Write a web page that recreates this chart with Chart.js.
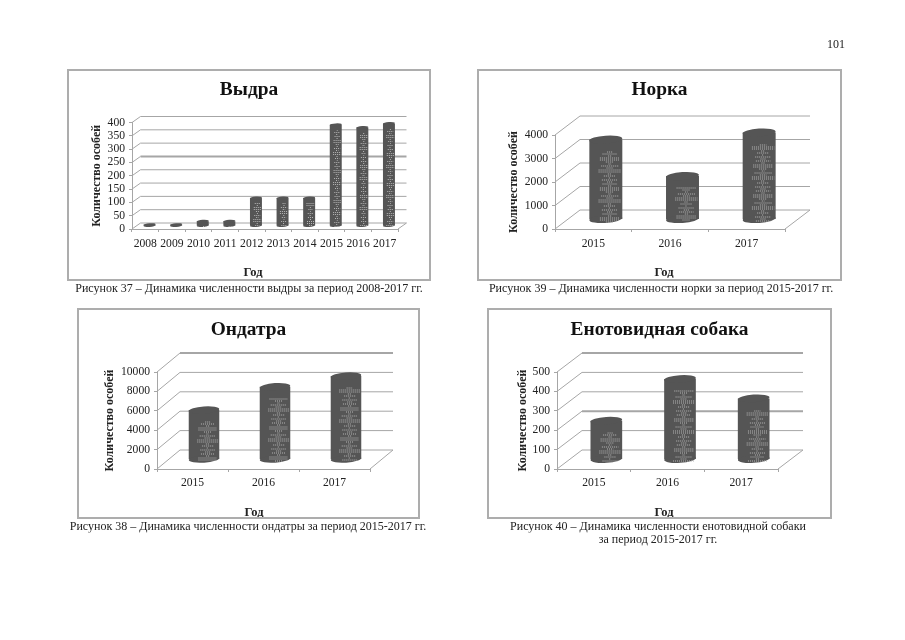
<!DOCTYPE html>
<html lang="ru">
<head>
<meta charset="utf-8">
<title>Динамика численности</title>
<script src="https://cdn.jsdelivr.net/npm/chart.js@4"></script>
<style>
    html, body { margin: 0; padding: 0; background: #fff; }
    body { position: relative; width: 905px; height: 640px; overflow: hidden; font-family: "Liberation Serif", serif; color: #222; }
    .marco { position: absolute; box-sizing: border-box; border: 2px solid #adadad; background: #fff; }
    .marco canvas { display: block; }
    .pie { position: absolute; white-space: nowrap; transform: translate(-50%, -50%); font-size: 12px; line-height: 13px; will-change: transform; }
</style>
</head>
<body>
<div class="pie" style="left:836px;top:44px">101</div>

<div class="marco" style="left:67px;top:69px;width:364px;height:212px"><canvas id="graf-vydra"></canvas></div>
<div class="marco" style="left:477px;top:69px;width:365px;height:212px"><canvas id="graf-norka"></canvas></div>
<div class="marco" style="left:77px;top:308px;width:343px;height:211px"><canvas id="graf-ondatra"></canvas></div>
<div class="marco" style="left:487px;top:308px;width:345px;height:211px"><canvas id="graf-enot"></canvas></div>

<div class="pie" style="left:248.5px;top:288px">Рисунок 37 – Динамика численности выдры за период 2008-2017 гг.</div>
<div class="pie" style="left:661px;top:288px">Рисунок 39 – Динамика численности норки за период 2015-2017 гг.</div>
<div class="pie" style="left:247.5px;top:526px">Рисунок 38 – Динамика численности ондатры за период 2015-2017 гг.</div>
<div class="pie" style="left:658px;top:526px">Рисунок 40 – Динамика численности енотовидной собаки</div>
<div class="pie" style="left:658px;top:539px">за период 2015-2017 гг.</div>

<script>
'use strict';

/* Datos */
const aniosVydra = ['2008', '2009', '2010', '2011', '2012', '2013', '2014', '2015', '2016', '2017'];
const valoresVydra = [5, 5, 18, 18, 105, 105, 105, 380, 370, 385];

const aniosCorto = ['2015', '2016', '2017'];
const valoresNorka = [3400, 1850, 3700];
const valoresOndatra = [5100, 7500, 8600];
const valoresEnot = [200, 415, 315];

const COLOR_BARRA = '#555555';
const COLOR_REJILLA = '#a6a6a6';
const COLOR_MOTA = '#b8b8b8';
const COLOR_TEXTO = '#222222';
const FUENTE = '"Liberation Serif", serif';

// anchura relativa de cada fila de motas, se repite a lo largo del cilindro
const FILAS_MOTAS = [0.08, 0.22, 0.05, 0.3, 0.3, 0.12, 0.04, 0.26, 0.1, 0.34, 0.34, 0.06, 0.18, 0.03, 0.24];

/* ─── Pared, suelo y cilindros del falso 3D ─── */
const plugin3D = {
    id: 'falso3d',

    beforeDatasetsDraw(chart, args, opts) {
        const { ctx, chartArea: area, scales: { y } } = chart;
        ctx.save();
        ctx.strokeStyle = COLOR_REJILLA;
        y.ticks.forEach(t => {
            const py = y.getPixelForValue(t.value);
            ctx.lineWidth = 1;
            ctx.beginPath();
            ctx.moveTo(area.left, py);
            ctx.lineTo(area.left + opts.dx, py + opts.dy);
            ctx.stroke();
            ctx.lineWidth = opts.gruesas.includes(t.value) ? 2 : 1;
            ctx.beginPath();
            ctx.moveTo(area.left + opts.dx, py + opts.dy);
            ctx.lineTo(area.right + opts.dx, py + opts.dy);
            ctx.stroke();
        });
        // arista derecha del suelo
        ctx.lineWidth = 1;
        ctx.beginPath();
        ctx.moveTo(area.right, area.bottom);
        ctx.lineTo(area.right + opts.dx, area.bottom + opts.dy);
        ctx.stroke();
        ctx.restore();

        // las barras van a media profundidad
        ctx.save();
        ctx.translate(opts.dx / 2, opts.dy / 2);
    },

    afterDatasetsDraw(chart) {
        const { ctx } = chart;
        chart.getDatasetMeta(0).data.forEach((bar, n) => {
            const { x, y, base, width } = bar.getProps(['x', 'y', 'base', 'width'], true);
            const ry = width * 0.12;
            ctx.fillStyle = COLOR_BARRA;
            [y, base].forEach(py => {
                ctx.beginPath();
                ctx.ellipse(x, py, width / 2, ry, -0.07, 0, Math.PI * 2);
                ctx.fill();
            });

            // motas claras del escaneado, en columna central
            const ini = y + ry + Math.min(width * 0.3, 8);
            const fin = base + ry * 0.7;
            ctx.strokeStyle = COLOR_MOTA;
            ctx.lineWidth = 1;
            ctx.setLineDash([1, 1]);
            const cx = x + width * 0.12;
            let i = n * 4;
            for (let py = ini; py < fin; py += 2) {
                const m = FILAS_MOTAS[i++ % FILAS_MOTAS.length] * width;
                ctx.beginPath();
                ctx.moveTo(cx - m, Math.round(py) + 0.5);
                ctx.lineTo(cx + m, Math.round(py) + 0.5);
                ctx.stroke();
            }
            ctx.setLineDash([]);
        });
        ctx.restore();
    },

    afterDraw(chart, args, opts) {
        const { ctx } = chart;
        ctx.save();
        ctx.font = `bold ${opts.tamAnio}px ${FUENTE}`;
        ctx.fillStyle = COLOR_TEXTO;
        ctx.textAlign = 'center';
        ctx.textBaseline = 'middle';
        ctx.fillText('Год', opts.anioX, opts.anioY);
        ctx.restore();
    }
};

/* ─── Crea un gráfico; g lleva la geometría en px respecto al canvas ─── */
function crearGrafico(id, titulo, categorias, valores, maximo, paso, g) {
    const canvas = document.getElementById(id);
    canvas.width = g.ancho;
    canvas.height = g.alto;

    const tamTitulo = 19.4;
    const relleno = g.tituloY - tamTitulo * 0.6;

    new Chart(canvas, {
        type: 'bar',
        data: {
            labels: categorias,
            datasets: [{
                data: valores,
                backgroundColor: COLOR_BARRA,
                borderWidth: 0,
                categoryPercentage: 1,
                barPercentage: g.barra,
                clip: false
            }]
        },
        options: {
            responsive: false,
            animation: false,
            layout: { padding: 0 },
            plugins: {
                legend: { display: false },
                tooltip: { enabled: false },
                title: {
                    display: true,
                    text: titulo,
                    color: '#111',
                    font: { family: FUENTE, size: tamTitulo, weight: 'bold', lineHeight: 1.2 },
                    padding: { top: relleno, bottom: g.arriba - relleno - tamTitulo * 1.2 }
                },
                falso3d: {
                    dx: g.dx, dy: g.dy, gruesas: g.gruesas,
                    tamAnio: 12.5, anioX: g.anioX, anioY: g.anioY
                }
            },
            scales: {
                x: {
                    grid: { offset: true, drawOnChartArea: false, color: COLOR_REJILLA, tickLength: 3 },
                    border: { color: COLOR_REJILLA },
                    ticks: {
                        color: COLOR_TEXTO, maxRotation: 0, autoSkip: false, padding: g.padX,
                        font: { family: FUENTE, size: g.tamTick }
                    },
                    afterFit(s) { s.height = g.alto - g.abajo; }
                },
                y: {
                    min: 0, max: maximo,
                    grid: { drawOnChartArea: false, color: COLOR_REJILLA, tickLength: 3 },
                    border: { color: COLOR_REJILLA },
                    ticks: {
                        stepSize: paso, color: COLOR_TEXTO, padding: 4, autoSkip: false,
                        font: { family: FUENTE, size: g.tamTick },
                        callback: v => String(v)
                    },
                    title: {
                        display: true,
                        text: 'Количество особей',
                        color: COLOR_TEXTO,
                        font: { family: FUENTE, size: 12, weight: 'bold', lineHeight: 1.2 },
                        padding: { top: g.ejeY - 7.2, bottom: 0 }
                    },
                    afterFit(s) { s.width = g.izquierda; }
                },
                // eje vacío: solo reserva el margen derecho sin descentrar el título
                margen: {
                    position: 'right',
                    grid: { display: false },
                    border: { display: false },
                    ticks: { display: false },
                    afterFit(s) { s.width = g.ancho - g.derecha; }
                }
            }
        },
        plugins: [plugin3D]
    });
}

crearGrafico('graf-vydra', 'Выдра', aniosVydra, valoresVydra, 400, 50, {
    ancho: 360, alto: 208, izquierda: 63, derecha: 329, arriba: 51.5, abajo: 158,
    dx: 8.5, dy: -6, barra: 0.45, padX: 5, gruesas: [250],
    tituloY: 19, ejeY: 28, anioX: 184, anioY: 202, tamTick: 11.6
});
crearGrafico('graf-norka', 'Норка', aniosCorto, valoresNorka, 4000, 1000, {
    ancho: 361, alto: 208, izquierda: 76, derecha: 306, arriba: 64, abajo: 158,
    dx: 25, dy: -19, barra: 0.43, padX: 5, gruesas: [],
    tituloY: 19, ejeY: 35, anioX: 185, anioY: 202, tamTick: 11.6
});
crearGrafico('graf-ondatra', 'Ондатра', aniosCorto, valoresOndatra, 10000, 2000, {
    ancho: 339, alto: 207, izquierda: 78, derecha: 291, arriba: 62, abajo: 159,
    dx: 23, dy: -19, barra: 0.43, padX: 4, gruesas: [10000],
    tituloY: 20, ejeY: 31, anioX: 175, anioY: 203, tamTick: 11.6
});
crearGrafico('graf-enot', 'Енотовидная собака', aniosCorto, valoresEnot, 500, 100, {
    ancho: 341, alto: 207, izquierda: 68, derecha: 289, arriba: 62, abajo: 159,
    dx: 25, dy: -19, barra: 0.43, padX: 4, gruesas: [200, 500],
    tituloY: 20, ejeY: 34, anioX: 175, anioY: 203, tamTick: 11.6
});
</script>
</body>
</html>
